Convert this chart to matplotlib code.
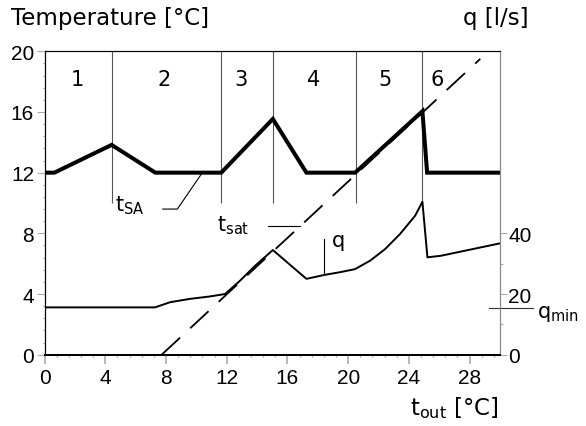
import matplotlib
matplotlib.use('Agg')
import matplotlib.pyplot as plt
from matplotlib.ticker import MultipleLocator
import numpy as np

plt.rcParams['mathtext.default'] = 'regular'
plt.rcParams['lines.scale_dashes'] = False

# supply air temperature t_SA
tout_sa = [0, 0.65, 4.42, 7.3, 11.64, 15.04, 17.25, 20.46, 24.89, 25.2, 30]
t_sa = [12, 12, 13.83, 12, 12, 15.54, 12, 12, 16.05, 12, 12]

# saturation temperature t_sat (straight line)
tout_sat = [7.72, 28.7]
t_sat = [0, 19.5]

# air flow q [l/s]
tout_q = [0, 7.28, 8.27, 9.58, 10.9, 11.89, 12.88, 13.87, 15.04, 17.25, 18.44,
          19.47, 20.45, 21.45, 22.43, 23.42, 24.41, 24.89, 25.22, 26.1, 30]
q = [15.6, 15.6, 17.3, 18.4, 19.2, 20.0, 24.4, 29.3, 34.5, 25.0, 26.3,
     27.2, 28.2, 31.0, 34.8, 39.8, 45.8, 50.4, 32.1, 32.6, 36.7]
q_min = 15.4

# operating regions
borders = [4.42, 11.64, 15.04, 20.5, 24.89]
region_x = [2.19, 7.9, 12.95, 17.7, 22.4, 25.87]
region_lbl = ['1', '2', '3', '4', '5', '6']

fig = plt.figure(figsize=(5.86, 4.27), dpi=100)
ax1 = fig.add_axes([44.5/586, 1-355.7/427, (500-44.5)/586, (355.7-52.3)/427])
ax2 = ax1.twinx()

txt = dict(family='DejaVu Sans', fontsize=15, color='black')

ax1.vlines(borders, 10, 20, color='#555555', lw=0.8)
for x, s in zip(region_x, region_lbl):
    ax1.text(x, 18.17, s, ha='center', va='center', **txt)

ax1.plot(tout_sa, t_sa, color='black', lw=2.9, solid_joinstyle='miter')
ax1.plot(tout_sat, t_sat, color='black', lw=1.3, dashes=(18, 10))
ax2.plot(tout_q, q, color='black', lw=1.4)

# leaders and labels
ax1.plot([7.79, 8.75, 10.36], [9.6, 9.6, 11.95], color='black', lw=0.8)
ax1.text(4.64, 9.54, 't$_{SA}$', ha='left', va='baseline', **txt)
ax1.plot([14.7, 16.85], [8.5, 8.5], color='black', lw=0.8)
ax1.text(11.34, 8.17, 't$_{sat}$', ha='left', va='baseline', **txt)
ax1.plot([18.43, 18.43], [7.63, 5.3], color='black', lw=0.8)
ax1.text(18.92, 7.17, 'q', ha='left', va='baseline', **txt)
ax2.plot([29.3, 32.2], [q_min, q_min], color='#333333', lw=0.8, clip_on=False)
ax1.text(32.42, 2.49, 'q$_{min}$', ha='left', va='baseline', clip_on=False, **txt)

ax1.set_xlim(0, 30)
ax1.set_ylim(0, 20)
ax2.set_ylim(0, 100)

ax1.xaxis.set_major_locator(MultipleLocator(4))
ax1.xaxis.set_minor_locator(MultipleLocator(0.8))
ax1.yaxis.set_major_locator(MultipleLocator(4))
ax1.yaxis.set_minor_locator(MultipleLocator(0.8))
ax2.set_yticks([0, 20, 40])
ax2.set_yticks([10, 30], minor=True)

tickfont = dict(family='Liberation Sans', size=15)
for a in (ax1, ax2):
    for lab in a.get_xticklabels() + a.get_yticklabels():
        lab.set_fontfamily('Liberation Sans')
        lab.set_fontsize(15)

ax1.tick_params(axis='x', which='major', length=6.5, width=1.2, color='#aaaaaa', pad=3)
ax1.tick_params(axis='x', which='minor', length=1.5, width=1, color='#aaaaaa')
ax1.tick_params(axis='y', which='major', length=6, width=0.8, color='#aaaaaa', pad=1.5)
ax1.tick_params(axis='y', which='minor', length=1.8, width=0.8, color='#aaaaaa')
ax2.tick_params(axis='y', which='major', length=5, width=0.8, color='#aaaaaa', pad=1)
ax2.tick_params(axis='y', which='minor', length=1.8, width=0.8, color='#aaaaaa')

for a in (ax1, ax2):
    a.spines['left'].set_color('black')
    a.spines['left'].set_linewidth(0.8)
    a.spines['top'].set_color('black')
    a.spines['top'].set_linewidth(0.8)
    a.spines['bottom'].set_color('black')
    a.spines['bottom'].set_linewidth(1.4)
    a.spines['right'].set_color('#888888')
    a.spines['right'].set_linewidth(0.8)

fig.text(11/586, 1-18/427, 'Temperature [°C]', ha='left', va='center',
         family='DejaVu Sans', fontsize=16.5)
fig.text(463/586, 1-18/427, 'q [l/s]', ha='left', va='center',
         family='DejaVu Sans', fontsize=16.5)
fig.text(499/586, 1-408/427, 't$_{out}$ [°C]', ha='right', va='center',
         family='DejaVu Sans', fontsize=16.5)

plt.savefig('out.png', dpi=100)
